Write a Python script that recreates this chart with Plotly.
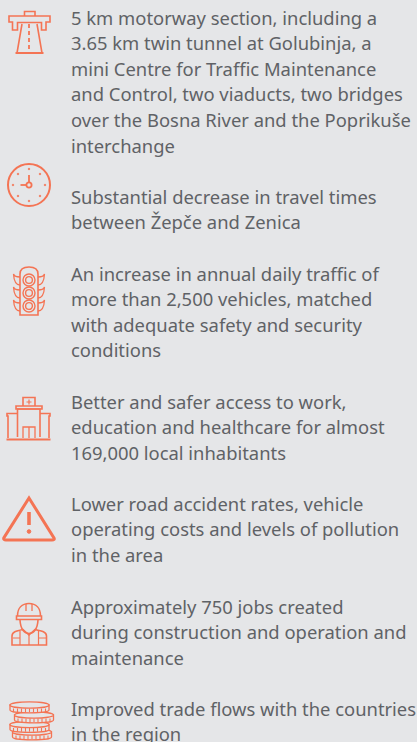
import plotly.graph_objects as go

# ---- content ----
block_1 = ["5 km motorway section, including a", "3.65 km twin tunnel at Golubinja, a",
           "mini Centre for Traffic Maintenance", "and Control, two viaducts, two bridges",
           "over the Bosna River and the Poprikuše", "interchange"]
block_2 = ["Substantial decrease in travel times", "between Žepče and Zenica"]
block_3 = ["An increase in annual daily traffic of", "more than 2,500 vehicles, matched",
           "with adequate safety and security", "conditions"]
block_4 = ["Better and safer access to work,", "education and healthcare for almost",
           "169,000 local inhabitants"]
block_5 = ["Lower road accident rates, vehicle", "operating costs and levels of pollution",
           "in the area"]
block_6 = ["Approximately 750 jobs created", "during construction and operation and",
           "maintenance"]
block_7 = ["Improved trade flows with the countries", "in the region"]
blocks = [block_1, block_2, block_3, block_4, block_5, block_6, block_7]

# ---- layout / style ----
W, H = 417, 742
BG, INK, ORANGE = "#e5e6e8", "#5f6266", "#f47454"
FONT = "Noto Sans"
SIZE = 18.4
TEXT_X = 70
FIRST_Y = [17, 196, 273, 401, 503, 606, 708]
LEADING = 25.6

shapes = []
def path(d, w=1.6, fill=None):
    s = dict(type="path", path=d, line=dict(color=ORANGE, width=w), layer="above")
    if fill:
        s["fillcolor"] = fill
    shapes.append(s)
def circle(cx, cy, rx, ry=None, w=1.6, fill=None):
    ry = rx if ry is None else ry
    s = dict(type="circle", x0=cx-rx, x1=cx+rx, y0=cy-ry, y1=cy+ry,
             line=dict(color=ORANGE, width=w), layer="above")
    if fill:
        s["fillcolor"] = fill
    shapes.append(s)

# motorway
path("M24.5,16 V11.5 H35 V16")
path("M9,16 H50 V22 H46 V30 H41.5 V22.5 H17.5 V30 H12.5 V22 H9 Z")
path("M22,24 L17,53 H42 L37,24")
path("M15.5,53 H43.5", w=2)
for y0 in (24, 31, 38, 45):
    path(f"M29,{y0} V{y0+4}", w=1.8)

# clock
circle(29, 185, 21, w=2)
circle(29, 185, 2.6, w=1.8)
path("M29,175 V182.5", w=1.8)
path("M20.5,185 H26.5", w=1.8)
for dx, dy in [(0,-16), (0,16), (-16,0), (16,0), (-11,-11), (11,-11), (-11,11), (11,11)]:
    circle(29+dx, 185+dy, 0.8, w=0.8, fill=ORANGE)

# traffic light
path("M20,274 Q20,267 29,267 Q38,267 38,274 V315 H20 Z")
for cy in (280, 293, 306):
    circle(29, cy, 6, w=1.4)
    circle(29, cy, 3.4, w=1.4)
    path(f"M20,{cy-3} C15,{cy-3} 14,{cy-4} 13.5,{cy-6} C14,{cy+2} 16,{cy+5} 20,{cy+5}", w=1.3)
    path(f"M38,{cy-3} C43,{cy-3} 44,{cy-4} 44.5,{cy-6} C44,{cy+2} 42,{cy+5} 38,{cy+5}", w=1.3)

# hospital
path("M6.5,439.5 H50.5", w=2.2)
path("M17.5,437 V409 H40 V437")
path("M16,406 H42 V409 H16 Z")
path("M23,406 V397.5 H35 V406")
path("M29,399.5 V404.5 M26.5,402 H31.5", w=1.2)
path("M17,413.5 H7 V416 H8 V438 M40,413.5 H50 V416 H49 V438")
for x0 in (20.5, 26.5, 33):
    path(f"M{x0},413 h3 v7 h-3 Z", w=1.3)
for x0 in (11, 42):
    path(f"M{x0},423 h3.5 v7 h-3.5 Z", w=1.3)
path("M23,438 V427 H35 V438 M29,427 V438", w=1.3)

# warning triangle
path("M29,498 L3.8,538 Q3.2,540 6,540 H52 Q55,540 54,538 Z", w=3)
path("M29,512 V525", w=3.6)
circle(29, 531.5, 1.8, w=1, fill=ORANGE)

# worker
path("M17.5,616 C17.5,608 22,603.5 29,603.5 C36,603.5 40.5,608 40.5,616")
path("M16.5,616 H41.5 V619.5 H16.5 Z")
path("M26,604 V611 M32,604 V611", w=1.3)
path("M20,620 C20.5,630 25,633.5 29,633.5 C33,633.5 37.5,630 38,620")
path("M12,645 V636 C12,632 16,631 23,629.5 L29,635 L35,629.5 C42,631 46.5,632 46.5,636 V645 Z")
path("M20,631 V645 M38.5,631 V645 M29,635 V645 M13,638 H20 M38.5,638 H46", w=1.2)

# coins, drawn bottom-up
def coin(cx, cy, rx=19.5, ry=3.2, h=5):
    path(f"M{cx-rx},{cy} V{cy+h} C{cx-rx},{cy+h+ry*1.2} {cx+rx},{cy+h+ry*1.2} {cx+rx},{cy+h} V{cy} Z", w=1.3, fill=BG)
    circle(cx, cy, rx, ry, w=1.3, fill=BG)
    for k in range(-8, 9, 2):
        path(f"M{cx+k*2},{cy+ry+0.3} V{cy+ry+h-1}", w=1.1)
coin(32, 732)
coin(29.5, 724.5)
coin(34, 715)
coin(29.5, 705)

annotations = []
for block, y0 in zip(blocks, FIRST_Y):
    for i, line in enumerate(block):
        annotations.append(dict(x=TEXT_X, y=y0 + i*LEADING, xref="x", yref="y", text=line,
                                showarrow=False, xanchor="left", yanchor="middle",
                                align="left", borderpad=0,
                                font=dict(family=FONT, size=SIZE, color=INK)))

fig = go.Figure()
fig.update_layout(width=W, height=H, margin=dict(l=0, r=0, t=0, b=0),
                  paper_bgcolor=BG, plot_bgcolor=BG, showlegend=False,
                  xaxis=dict(range=[0, W], visible=False, fixedrange=True),
                  yaxis=dict(range=[H, 0], visible=False, fixedrange=True),
                  shapes=shapes, annotations=annotations)
fig.write_html("out.html", config=dict(displayModeBar=False),
               post_script="document.body.style.margin='0';document.body.style.background='%s';" % BG)
